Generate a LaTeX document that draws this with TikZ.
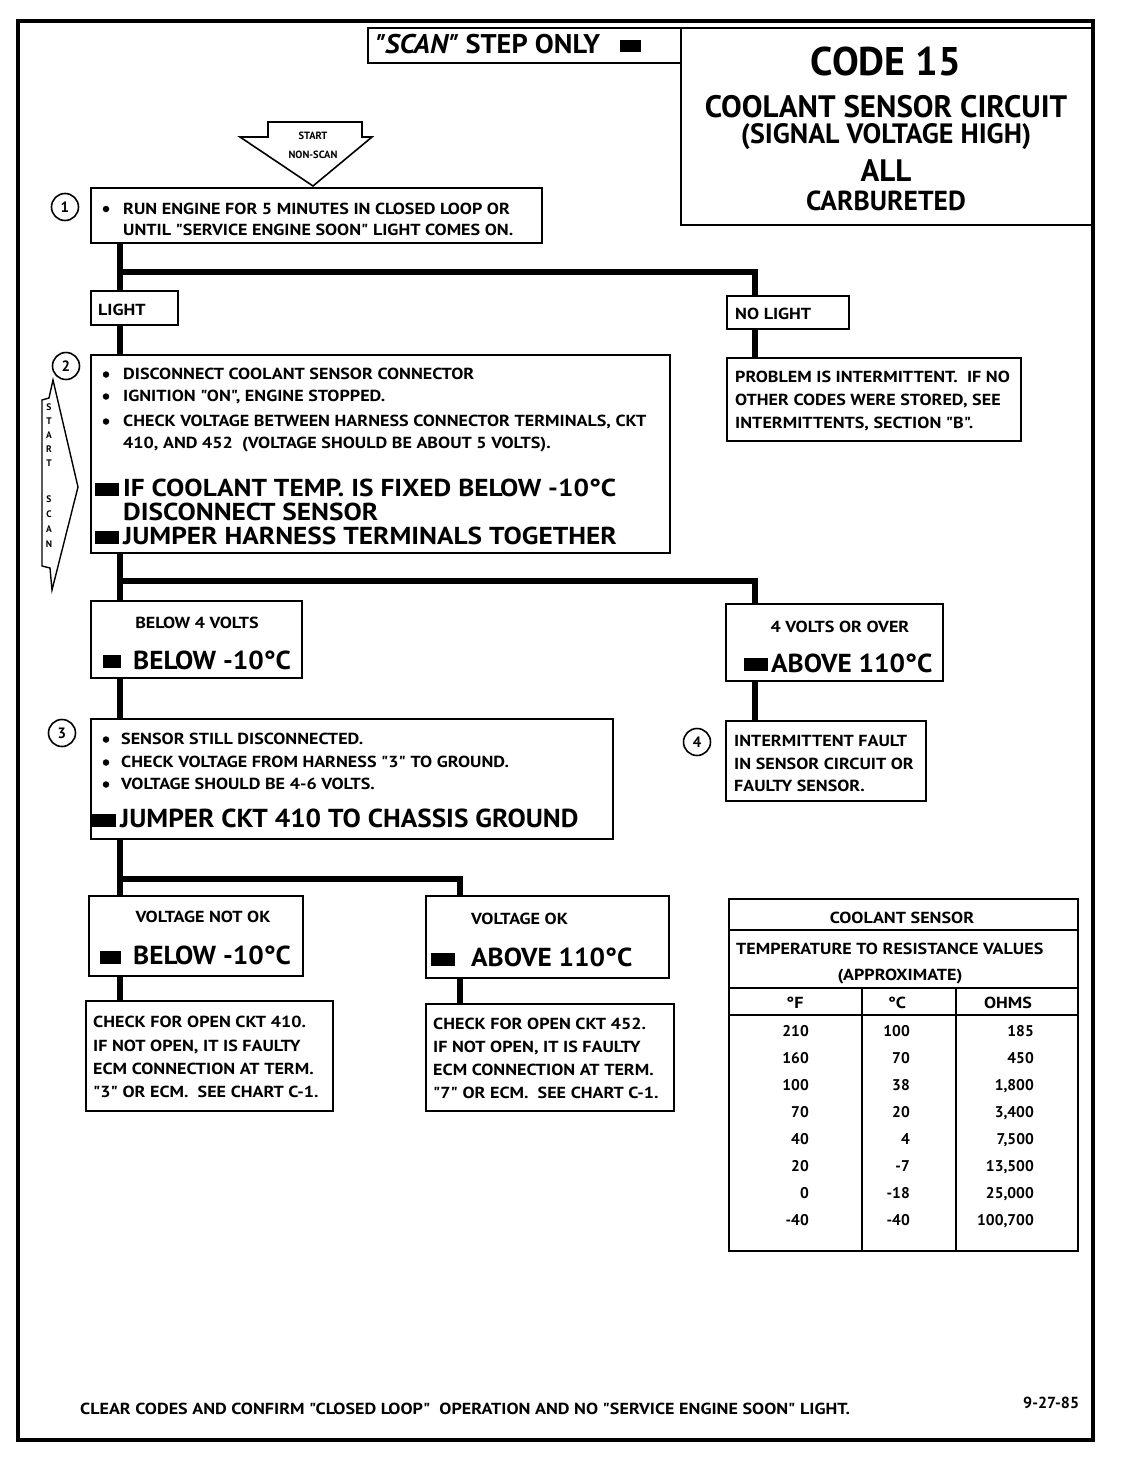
\documentclass[tikz,border=0pt]{standalone}
\usepackage{fontspec}
\setmainfont{PT Sans}[Ligatures=TeXOff]
\newfontfamily\smf{PT Sans}[FakeStretch=1.13,Ligatures=TeXOff]
\newfontfamily\bigf{PT Sans}[FakeStretch=1.05,Ligatures=TeXOff]
\newfontfamily\bigwide{PT Sans}[FakeStretch=1.115,Ligatures=TeXOff]
\begin{document}
\begin{tikzpicture}[x=1pt,y=-1pt,
  box/.style={draw,line width=1.8pt,anchor=north west,inner sep=0,rectangle},
  conn/.style={line width=5.5pt},
  frame/.style={line width=3.5pt},
  t/.style={anchor=base west,inner sep=0,font=\smf\bfseries\fontsize{16}{18}\selectfont},
  tc/.style={anchor=base,inner sep=0,font=\smf\bfseries\fontsize{16}{18}\selectfont},
  tr/.style={anchor=base east,inner sep=0,font=\bfseries\fontsize{15.5}{18}\selectfont},
  big/.style={anchor=base west,inner sep=0,text height=18pt,text depth=0pt,font=\bigf\bfseries\fontsize{26}{28}\selectfont},
  bigb/.style={anchor=base west,inner sep=0,text height=17pt,text depth=0pt,font=\bigwide\bfseries\fontsize{24.5}{26}\selectfont},
  num/.style={draw,circle,line width=1.6pt,minimum size=27pt,inner sep=0,font=\bfseries\fontsize{15}{18}\selectfont},
  dot/.style={circle,fill,minimum size=6.5pt,inner sep=0}]
\newcommand\bx[5]{\node[box,minimum width={#4-#2},minimum height={#5-#3}] (#1) at (#2,#3) {};}
\useasboundingbox (0,0) rectangle (1120,1472);
\fill[white] (0,0) rectangle (1120,1472);

% outer frame
\draw[frame] (18,21) -- (1093,21) -- (1093,1440) -- (18,1440) -- cycle;

% scan box and header
\bx{scan}{367}{27}{680}{62}
\node[anchor=base west,inner sep=0,font=\bigf\bfseries\fontsize{27}{30}\selectfont] (scant) at (375,54) {\textit{"SCAN"} STEP ONLY};
\fill (620,40) rectangle (641,52);
\bx{head}{680}{27}{1093}{224}
\node[tc,font=\bfseries\fontsize{40}{44}\selectfont] (h1) at (886,76) {CODE 15};
\node[tc,font=\bfseries\fontsize{31}{34}\selectfont] (h2) at (886,117) {COOLANT SENSOR CIRCUIT};
\node[tc,font=\bfseries\fontsize{28}{30}\selectfont] (h3) at (886,143) {(SIGNAL VOLTAGE HIGH)};
\node[tc,font=\bfseries\fontsize{31}{34}\selectfont] (h4) at (886,181.5) {ALL};
\node[tc,font=\bfseries\fontsize{27.5}{30}\selectfont] (h5) at (886,210) {CARBURETED};

% start non-scan arrow
\draw[line width=1.6pt,line join=miter] (268,122) -- (362,122) -- (362,137) -- (372,137) -- (313,186) -- (240,137) -- (268,137) -- cycle;
\node[tc,font=\bfseries\fontsize{10.5}{12}\selectfont] (st1) at (313,139) {START};
\node[tc,font=\bfseries\fontsize{10.5}{12}\selectfont] (st2) at (313,158) {NON-SCAN};

% trunk coordinates
\coordinate (tA) at (120,272);
\coordinate (tB) at (755,272);
\coordinate (tC) at (120,581);
\coordinate (tD) at (755,581);
\coordinate (tE) at (120,879);
\coordinate (tF) at (460,879);

% step 1
\node[num] (c1) at (65,207) {1};
\bx{b1}{90}{187}{541}{242}
\node[dot] (b1d) at (106,209) {};
\node[t] (b1a) at (123,214) {RUN ENGINE FOR 5 MINUTES IN CLOSED LOOP OR};
\node[t] (b1b) at (123,235) {UNTIL "SERVICE ENGINE SOON" LIGHT COMES ON.};

% light / no light
\bx{light}{90}{290}{177}{324}
\node[t] (lt) at (98,315.5) {LIGHT};
\bx{nolight}{726}{295}{848}{328}
\node[t] (nlt) at (735,319.5) {NO LIGHT};
\bx{prob}{726}{357}{1020}{440}
\node[t] (p1) at (735,382.5) {PROBLEM IS INTERMITTENT.\ \ IF NO};
\node[t] (p2) at (735,405.5) {OTHER CODES WERE STORED, SEE};
\node[t] (p3) at (735,428.5) {INTERMITTENTS, SECTION "B".};

\draw[conn] (tA |- b1.south) -- (tA |- light.north);
\draw[conn] (tA) -- (tB) -- (tB |- nolight.north);
\draw[conn] (tB |- nolight.south) -- (tB |- prob.north);

% step 2
\node[num] (c2) at (66,366) {2};
\bx{b2}{90}{354}{669}{552}
\draw[conn] (tA |- light.south) -- (tA |- b2.north);
\node[dot] (b2d1) at (106,374.5) {};
\node[dot] (b2d2) at (106,396.5) {};
\node[dot] (b2d3) at (106,421.5) {};
\node[t] (b2a) at (123,379.5) {DISCONNECT COOLANT SENSOR CONNECTOR};
\node[t] (b2b) at (123,401.5) {IGNITION "ON", ENGINE STOPPED.};
\node[t] (b2c) at (123,426.5) {CHECK VOLTAGE BETWEEN HARNESS CONNECTOR TERMINALS, CKT};
\node[t] (b2e) at (123,448.5) {410, AND 452\ \ (VOLTAGE SHOULD BE ABOUT 5 VOLTS).};
\fill (95,483) rectangle (119,496);
\node[bigb] (b2f) at (123,496) {IF COOLANT TEMP. IS FIXED BELOW -10°C};
\node[bigb] (b2g) at (123,520) {DISCONNECT SENSOR};
\fill (95,531) rectangle (119,544);
\node[bigb] (b2h) at (123,544) {JUMPER HARNESS TERMINALS TOGETHER};

% start scan arrow
\draw[line width=1.4pt,line join=miter] (53,380) -- (78,487) -- (52,590) -- (50,568) -- (42,566) -- (42,400) -- (49,398) -- cycle;
\foreach \l/\yy [count=\k] in {S/410,T/424,A/438,R/452,T/466,S/502,C/517,A/532,N/547}
  \node[tc,font=\bfseries\fontsize{9.5}{10}\selectfont] (ss\k) at (49,\yy) {\l};

% voltage branches
\bx{below}{90}{600}{301}{677}
\node[tc] (bl1) at (197,628.5) {BELOW 4 VOLTS};
\fill (103,655) rectangle (121,668);
\node[big] (bl2) at (133,669.5) {BELOW -10°C};
\bx{over}{725}{603}{942}{680}
\node[tc] (ov1) at (840,632.5) {4 VOLTS OR OVER};
\fill (744,658) rectangle (768,671);
\node[big] (ov2) at (771,672.5) {ABOVE 110°C};
\draw[conn] (tC |- b2.south) -- (tC |- below.north);
\draw[conn] (tC) -- (tD) -- (tD |- over.north);

% step 4
\node[num] (c4) at (697,742) {4};
\bx{b4}{725}{720}{925}{800}
\draw[conn] (tD |- over.south) -- (tD |- b4.north);
\node[t] (b4a) at (734,746.5) {INTERMITTENT FAULT};
\node[t] (b4b) at (734,769.5) {IN SENSOR CIRCUIT OR};
\node[t] (b4c) at (734,791.5) {FAULTY SENSOR.};

% step 3
\node[num] (c3) at (62,733) {3};
\bx{b3}{90}{718}{612}{838}
\draw[conn] (tC |- below.south) -- (tC |- b3.north);
\node[dot] (b3d1) at (106,739.5) {};
\node[dot] (b3d2) at (106,762.5) {};
\node[dot] (b3d3) at (106,784.5) {};
\node[t] (b3a) at (121,744.5) {SENSOR STILL DISCONNECTED.};
\node[t] (b3b) at (121,767.5) {CHECK VOLTAGE FROM HARNESS "3" TO GROUND.};
\node[t] (b3c) at (121,789.5) {VOLTAGE SHOULD BE 4-6 VOLTS.};
\fill (92,814) rectangle (116,827);
\node[big] (b3e) at (120,827.5) {JUMPER CKT 410 TO CHASSIS GROUND};

% voltage ok / not ok
\bx{vnok}{88}{895}{302}{975}
\node[tc] (vn1) at (203,922.5) {VOLTAGE NOT OK};
\fill (100,951) rectangle (121,964);
\node[big] (vn2) at (133,964.5) {BELOW -10°C};
\bx{vok}{425}{895}{668}{977}
\node[t] (vo1) at (471,924.5) {VOLTAGE OK};
\fill (431,953) rectangle (455,966);
\node[big] (vo2) at (471,966.5) {ABOVE 110°C};
\draw[conn] (tE |- b3.south) -- (tE |- vnok.north);
\draw[conn] (tE) -- (tF) -- (tF |- vok.north);

\bx{r1}{85}{1000}{332}{1110}
\draw[conn] (tE |- vnok.south) -- (tE |- r1.north);
\node[t] (r1a) at (93,1027.5) {CHECK FOR OPEN CKT 410.};
\node[t] (r1b) at (93,1051.5) {IF NOT OPEN, IT IS FAULTY};
\node[t] (r1c) at (93,1074.5) {ECM CONNECTION AT TERM.};
\node[t] (r1d) at (93,1097.5) {"3" OR ECM.\ \ SEE CHART C-1.};
\bx{r2}{425}{1003}{673}{1110}
\draw[conn] (tF |- vok.south) -- (tF |- r2.north);
\node[t] (r2a) at (433,1029.5) {CHECK FOR OPEN CKT 452.};
\node[t] (r2b) at (433,1052.5) {IF NOT OPEN, IT IS FAULTY};
\node[t] (r2c) at (433,1075.5) {ECM CONNECTION AT TERM.};
\node[t] (r2d) at (433,1098.5) {"7" OR ECM.\ \ SEE CHART C-1.};

% table
\bx{tab}{728}{898}{1077}{1250}
\draw[line width=1.6pt] (728,930) -- (1077,930) (728,988) -- (1077,988) (728,1015) -- (1077,1015);
\draw[line width=1.6pt] (862,988) -- (862,1250) (956,988) -- (956,1250);
\node[tc] (tt1) at (902,923.5) {COOLANT SENSOR};
\node[t] (tt2) at (736,954.5) {TEMPERATURE TO RESISTANCE VALUES};
\node[tc] (tt3) at (900,980.5) {(APPROXIMATE)};
\node[tc] (thf) at (795,1008.5) {°F};
\node[tc] (thc) at (897,1008.5) {°C};
\node[tc] (tho) at (1008,1008.5) {OHMS};
\foreach \f/\c/\o [count=\i] in {210/100/185,160/70/450,100/38/{1,800},70/20/{3,400},40/4/{7,500},20/-7/{13,500},0/-18/{25,000},-40/-40/{100,700}}{
  \node[tr] (rf\i) at (809,1009.5+27*\i) {\f};
  \node[tr] (rc\i) at (910,1009.5+27*\i) {\c};
  \node[tr] (ro\i) at (1034,1009.5+27*\i) {\o};
}

% footer
\node[t] (foot) at (80,1414.5) {CLEAR CODES AND CONFIRM "CLOSED LOOP"\ \ OPERATION AND NO "SERVICE ENGINE SOON" LIGHT.};
\node[t,font=\bfseries\fontsize{16}{18}\selectfont] (date) at (1023,1408) {9-27-85};
\end{tikzpicture}
\end{document}
